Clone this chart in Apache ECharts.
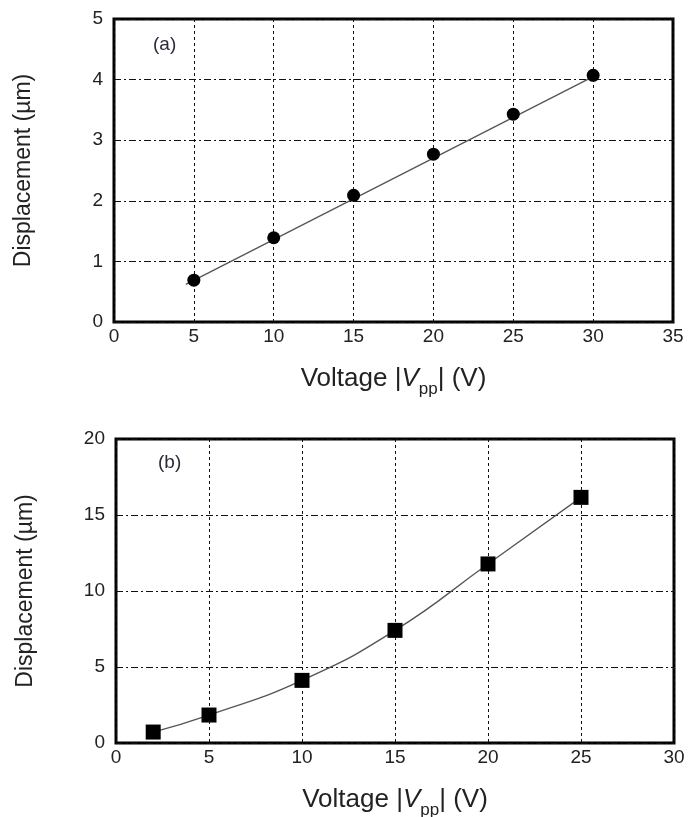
<!DOCTYPE html>
<html><head><meta charset="utf-8">
<script src="https://cdn.jsdelivr.net/npm/echarts@6/dist/echarts.min.js"></script>
<style>html,body{margin:0;padding:0;background:#fff}#c{width:689px;height:817px}</style>
</head><body><div id="c"></div>
<script>
// Panel (a)
const voltageA = [5, 10, 15, 20, 25, 30];
const dispA = [0.69, 1.39, 2.09, 2.77, 3.43, 4.07];
const fitVoltageA = [4.5, 30];
const fitDispA = [0.62, 4.05];
// Panel (b)
const voltageB = [2, 5, 10, 15, 20, 25];
const dispB = [0.72, 1.84, 4.12, 7.41, 11.78, 16.16];

const xTicksA = [0, 5, 10, 15, 20, 25, 30, 35];
const yTicksA = [0, 1, 2, 3, 4, 5];
const xTicksB = [0, 5, 10, 15, 20, 25, 30];
const yTicksB = [0, 5, 10, 15, 20];

const font = '"Liberation Sans", Arial, sans-serif';

function xAxis(idx, ticks) {
  return {
    type: 'value', gridIndex: idx, min: ticks[0], max: ticks[ticks.length - 1], interval: ticks[1] - ticks[0],
    axisLine: { show: false }, axisTick: { show: false },
    axisLabel: { color: '#222', fontSize: 19, fontFamily: font, margin: 5 },
    splitLine: { show: true, lineStyle: { color: '#111', width: 1, type: [3, 3] } },
    name: '{a|Voltage |}{i|V}{s|pp}{a|| (V)}', nameLocation: 'middle', nameGap: 32,
    nameTextStyle: {
      verticalAlign: 'top',
      rich: {
        a: { fontSize: 26, color: '#222', fontFamily: font, height: 30 },
        i: { fontSize: 26, color: '#222', fontFamily: font, fontStyle: 'italic', height: 30 },
        s: { fontSize: 17, color: '#222', fontFamily: font, padding: [20, 0, 0, 0], height: 30 }
      }
    }
  };
}
function yAxis(idx, ticks) {
  return {
    type: 'value', gridIndex: idx, min: ticks[0], max: ticks[ticks.length - 1], interval: ticks[1] - ticks[0],
    axisLine: { show: false }, axisTick: { show: false },
    axisLabel: { color: '#222', fontSize: 19, fontFamily: font, margin: 11 },
    splitLine: { show: true, lineStyle: { color: '#111', width: 1, type: [7, 3, 2, 3] } },
    name: 'Displacement (µm)', nameLocation: 'middle', nameGap: 79,
    nameTextStyle: { fontSize: 23, color: '#222', fontFamily: font }
  };
}

const chart = echarts.init(document.getElementById('c'));
chart.setOption({
  animation: false,
  backgroundColor: '#fff',
  grid: [
    { left: 114, right: 16, top: 19, height: 303, show: true, borderColor: '#000', borderWidth: 3, backgroundColor: 'transparent', outerBoundsMode: 'none', containLabel: false },
    { left: 116, right: 15, top: 439, height: 304, show: true, borderColor: '#000', borderWidth: 3, backgroundColor: 'transparent', outerBoundsMode: 'none', containLabel: false }
  ],
  xAxis: [xAxis(0, xTicksA), xAxis(1, xTicksB)],
  yAxis: [yAxis(0, yTicksA), yAxis(1, yTicksB)],
  graphic: [
    { type: 'text', left: 153, top: 35, style: { text: '(a)', fontSize: 19, fill: '#2a2a3a', fontFamily: font } },
    { type: 'text', left: 158, top: 453, style: { text: '(b)', fontSize: 19, fill: '#2a2a3a', fontFamily: font } }
  ],
  series: [
    { type: 'line', xAxisIndex: 0, yAxisIndex: 0, data: fitVoltageA.map((v, i) => [v, fitDispA[i]]),
      showSymbol: false, lineStyle: { color: '#555', width: 1.3 }, z: 2 },
    { type: 'scatter', xAxisIndex: 0, yAxisIndex: 0, data: voltageA.map((v, i) => [v, dispA[i]]),
      symbol: 'circle', symbolSize: 13, itemStyle: { color: '#000', opacity: 1 }, z: 3 },
    { type: 'line', xAxisIndex: 1, yAxisIndex: 1, data: voltageB.map((v, i) => [v, dispB[i]]),
      smooth: 0.5, showSymbol: false, lineStyle: { color: '#555', width: 1.3 }, z: 2 },
    { type: 'scatter', xAxisIndex: 1, yAxisIndex: 1, data: voltageB.map((v, i) => [v, dispB[i]]),
      symbol: 'rect', symbolSize: 15, itemStyle: { color: '#000', opacity: 1 }, z: 3 }
  ]
});
</script></body></html>
